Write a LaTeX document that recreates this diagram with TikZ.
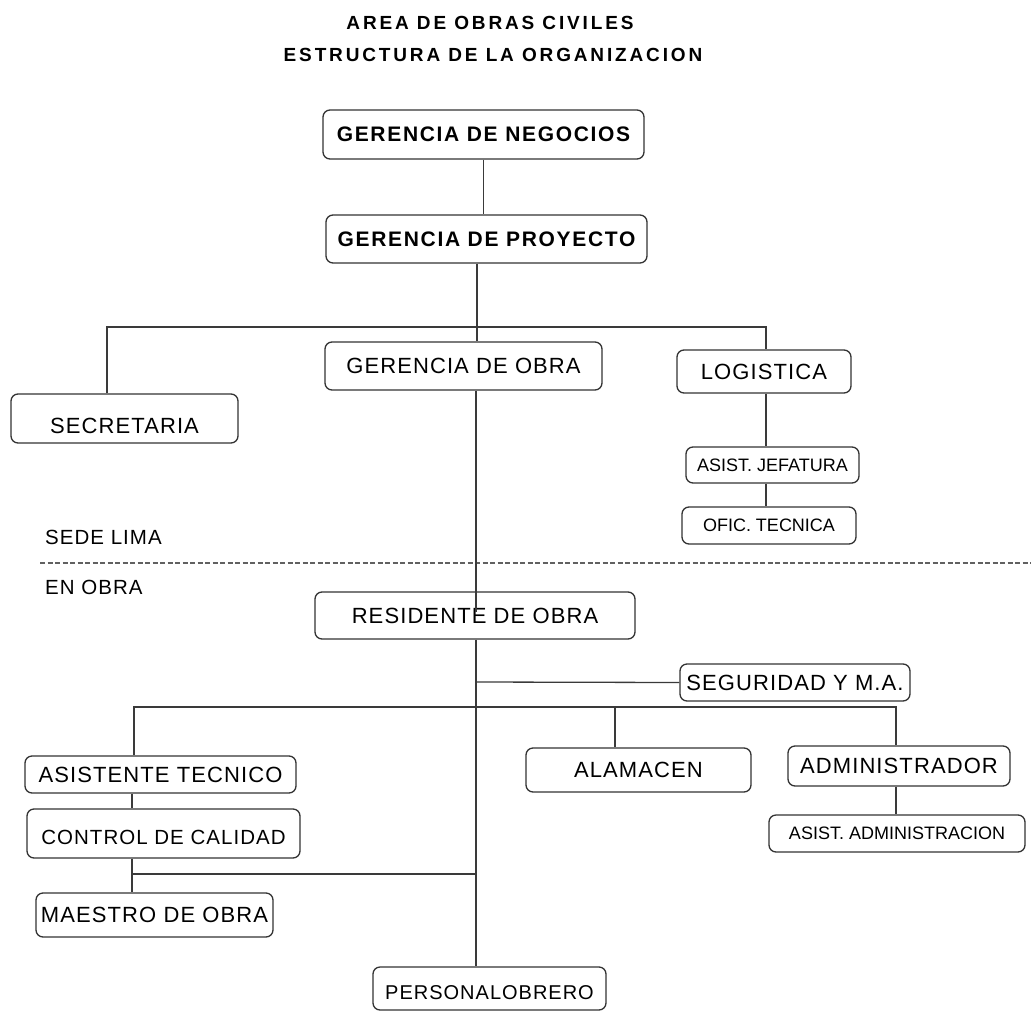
\documentclass[tikz,border=0pt]{standalone}
\usepackage{fontspec}
\setmainfont{Liberation Sans}
\newfontfamily\labfont[LetterSpace=5]{Liberation Sans}
\newfontfamily\labBfont[LetterSpace=8]{Liberation Sans}
\newfontfamily\ttlfont[LetterSpace=15]{Liberation Sans}
\definecolor{linecol}{HTML}{3A3A3A}
\definecolor{boxcol}{HTML}{333333}
\tikzset{
  box/.style={draw=boxcol, line width=1.3pt, rounded corners=7pt, inner sep=0pt,
    font=\labfont\fontsize{22}{24}\selectfont},
  smallbox/.style={box, font=\fontsize{18}{21}\selectfont},
  boldbox/.style={box, font=\labBfont\bfseries\fontsize{21}{24}\selectfont},
  conn/.style={draw=linecol, line width=1.3pt},
  dashline/.style={draw=linecol!80, line width=1.1pt, dash pattern=on 5pt off 2.5pt},
  plain/.style={inner sep=0pt, anchor=west, font=\labfont\fontsize{20.5}{22}\selectfont},
  ttl/.style={inner sep=0pt, font=\ttlfont\bfseries\fontsize{19}{22}\selectfont},
}
\begin{document}
\begin{tikzpicture}[x=1pt,y=-1pt]
\useasboundingbox (0,0) rectangle (1031,1012);
% titles
\node[ttl] (title1) at (490,23) {AREA DE OBRAS CIVILES};
\node[ttl] (title2) at (493,54.5) {ESTRUCTURA DE LA ORGANIZACION};
% boxes
\node[boldbox, minimum width=321pt, minimum height=49pt] (GN) at (483.5,134.5) {GERENCIA DE NEGOCIOS};
\node[boldbox, minimum width=321pt, minimum height=48pt] (GP) at (486.5,239) {GERENCIA DE PROYECTO};
\node[box, minimum width=227pt, minimum height=49pt] (SEC) at (124.5,418.5) {\raisebox{-7pt}[\height][\depth]{SECRETARIA}};
\node[box, minimum width=277pt, minimum height=48pt] (GDO) at (463.5,366) {GERENCIA DE OBRA};
\node[box, minimum width=174pt, minimum height=43pt] (LOG) at (764,371.5) {LOGISTICA};
\node[smallbox, minimum width=173pt, minimum height=36pt] (AJ) at (772.5,465) {ASIST. JEFATURA};
\node[smallbox, minimum width=174pt, minimum height=37pt] (OT) at (769,525.5) {OFIC. TECNICA};
\node[box, minimum width=320pt, minimum height=47pt] (RO) at (475,615.5) {RESIDENTE DE OBRA};
\node[box, minimum width=230pt, minimum height=37pt] (SEG) at (795,682.5) {SEGURIDAD Y M.A.};
\node[box, minimum width=271pt, minimum height=37pt] (AT) at (160.5,774.5) {ASISTENTE TECNICO};
\node[box, minimum width=225pt, minimum height=44pt] (ALM) at (638.5,770) {ALAMACEN};
\node[box, minimum width=222pt, minimum height=40pt] (ADM) at (899,766) {ADMINISTRADOR};
\node[box, minimum width=273pt, minimum height=49pt, font=\labfont\fontsize{20.5}{24}\selectfont] (CC) at (163.5,833.5) {\raisebox{-4pt}[\height][\depth]{CONTROL DE CALIDAD}};
\node[smallbox, minimum width=256pt, minimum height=37pt] (AA) at (897,833.5) {ASIST. ADMINISTRACION};
\node[box, minimum width=237pt, minimum height=44pt] (MO) at (154.5,915) {MAESTRO DE OBRA};
\node[box, minimum width=233pt, minimum height=43pt, font=\labfont\fontsize{20}{24}\selectfont] (PO) at (489.5,988.5) {\raisebox{-4pt}[\height][\depth]{PERSONALOBRERO}};
% side labels
\node[plain] (sede) at (45,537) {SEDE LIMA};
\node[plain] (enobra) at (45,587) {EN OBRA};
% dashed separator
\coordinate (dl) at (40,563);
\coordinate (dr) at (1031,563);
\draw[dashline] (dl) -- (dr);
% junction points
\coordinate (j1) at (477,327);
\coordinate (js) at (107,327);
\coordinate (jl) at (766,327);
\coordinate (t) at (476,612);
\coordinate (jseg) at (476,682);
\coordinate (h2l) at (134,707);
\coordinate (h2m) at (615,707);
\coordinate (h2r) at (896,707);
\coordinate (cl) at (132,874);
% connectors
\draw[conn] (GN.south) -- (GN.south |- GP.north);
\draw[conn] (GP.south -| j1) -- (j1 |- GDO.north);
\draw[conn] (js |- SEC.north) -- (js) -- (jl) -- (jl |- LOG.north);
\draw[conn] (jl |- LOG.south) -- (jl |- AJ.north);
\draw[conn] (jl |- AJ.south) -- (jl |- OT.north);
\draw[conn] (t |- GDO.south) -- (t);
\draw[conn] (t |- RO.south) -- (t |- PO.north);
\draw[conn] (jseg) -- (SEG.west);
\draw[conn] (h2l |- AT.north) -- (h2l) -- (h2r) -- (h2r |- ADM.north);
\draw[conn] (h2m) -- (h2m |- ALM.north);
\draw[conn] (h2r |- ADM.south) -- (h2r |- AA.north);
\draw[conn] (cl |- AT.south) -- (cl |- CC.north);
\draw[conn] (cl |- CC.south) -- (cl |- MO.north);
\draw[conn] (cl) -- (t |- cl);
\end{tikzpicture}
\end{document}
